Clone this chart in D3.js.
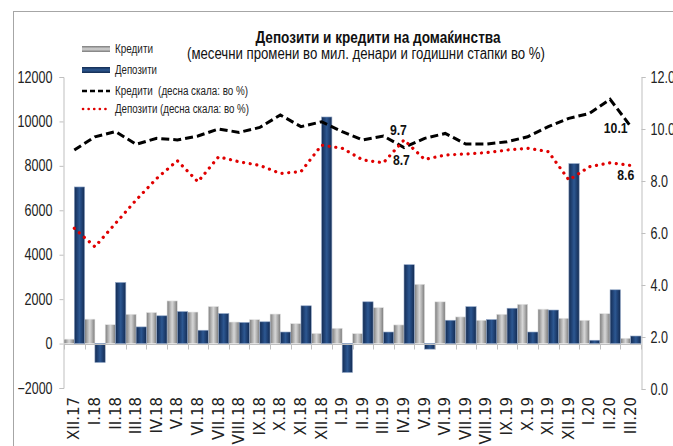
<!DOCTYPE html>
<html>
<head>
<meta charset="utf-8">
<script src="https://cdn.jsdelivr.net/npm/d3@7"></script>
<style>
  body { margin: 0; background: #fff; }
  text { font-family: "Liberation Sans Narrow", "Liberation Sans", sans-serif; }
</style>
</head>
<body>
<svg width="673" height="446"></svg>
<script>
var months = ["XII.17","I.18","II.18","III.18","IV.18","V.18","VI.18","VII.18","VIII.18","IX.18","X.18","XI.18",
              "XII.18","I.19","II.19","III.19","IV.19","V.19","VI.19","VII.19","VIII.19","IX.19","X.19","XI.19",
              "XII.19","I.20","II.20","III.20"];

// monthly changes, mil. denars (left scale)
var credits  = [200,1100,850,1320,1400,1920,1420,1670,970,1080,1330,900,
                460,690,450,1620,840,2670,1880,1200,1050,1320,1770,1550,
                1140,1050,1350,240];
var deposits = [7050,-850,2750,750,1250,1440,600,1350,950,980,520,1700,
                10200,-1300,1880,520,3550,-250,1050,1660,1080,1590,520,1510,
                8100,150,2420,340];

// annual growth rates, % (right scale)
var creditsRate  = [9.19,9.7,9.9,9.41,9.64,9.58,9.73,10.0,9.87,10.06,10.54,10.09,
                    10.28,9.9,9.58,9.73,9.29,9.64,9.83,9.42,9.42,9.51,9.7,10.09,
                    10.41,10.6,11.14,10.1];
var depositsRate = [6.18,5.47,6.37,7.27,8.1,8.78,7.97,8.93,8.74,8.6,8.29,8.36,
                    9.38,9.26,8.81,8.7,9.58,8.83,9.0,9.04,9.09,9.19,9.26,9.13,
                    8.04,8.55,8.7,8.6];

var leftTicks  = [-2000,0,2000,4000,6000,8000,10000,12000];
var rightTicks = [0,2,4,6,8,10,12];

var svg = d3.select("svg");

// narrow text width helper (no narrow font installed)
function narrowLen(s, digit) {
  var w = 0;
  for (var k = 0; k < s.length; k++) {
    var ch = s[k];
    if (ch === ".") w += digit * 0.5;
    else if (ch === "-") w += digit * 0.6;
    else w += digit;
  }
  return w;
}

// frame
svg.append("rect")
   .attr("x", 13.5).attr("y", 11.5)
   .attr("width", 700).attr("height", 500)
   .attr("fill", "none").attr("stroke", "#a6a6a6");

var defs = svg.append("defs");
function grad(id, edge, mid, light) {
  var g = defs.append("linearGradient").attr("id", id)
    .attr("x1", "0%").attr("x2", "100%").attr("y1", "0%").attr("y2", "0%");
  g.append("stop").attr("offset", "0%").attr("stop-color", edge);
  g.append("stop").attr("offset", "35%").attr("stop-color", mid);
  g.append("stop").attr("offset", "50%").attr("stop-color", light);
  g.append("stop").attr("offset", "65%").attr("stop-color", mid);
  g.append("stop").attr("offset", "100%").attr("stop-color", edge);
}
grad("gGrey", "#7a7a7a", "#bdbdbd", "#d6d6d6");
grad("gBlue", "#142c52", "#24497f", "#2d5891");

var x = d3.scaleBand().domain(months).range([64, 641]).padding(0);
var yL = d3.scaleLinear().domain([-2000, 12000]).range([388, 77]);
var yR = d3.scaleLinear().domain([0, 12]).range([389, 77]);
var bw = x.bandwidth();

// left axis
var axL = svg.append("g")
   .attr("transform", "translate(63.5,0)")
   .call(d3.axisLeft(yL).tickValues(leftTicks).tickSize(4).tickPadding(7).tickFormat(d3.format("d")));
// right axis
var axR = svg.append("g")
   .attr("transform", "translate(641.5,0)")
   .call(d3.axisRight(yR).tickValues(rightTicks).tickSize(4).tickPadding(5).tickFormat(d3.format(".1f")));

[axL, axR].forEach(function(a) {
  a.select(".domain").attr("stroke", "#bfbfbf");
  a.selectAll(".tick line").attr("stroke", "#bfbfbf");
  a.selectAll("text").style("font-size", "16px").attr("fill", "#222")
   .attr("textLength", function() { return narrowLen(d3.select(this).text(), 7); })
   .attr("lengthAdjust", "spacingAndGlyphs");
});

// bars
svg.selectAll(".barC").data(credits).enter().append("rect")
   .attr("class", "barC")
   .attr("x", function(d, i) { return x(months[i]); })
   .attr("width", bw / 2)
   .attr("y", function(d) { return yL(Math.max(0, d)); })
   .attr("height", function(d) { return Math.abs(yL(d) - yL(0)); })
   .attr("fill", "url(#gGrey)")
   .attr("stroke", "#e6e6e6").attr("stroke-width", 0.6);

svg.selectAll(".barD").data(deposits).enter().append("rect")
   .attr("class", "barD")
   .attr("x", function(d, i) { return x(months[i]) + bw / 2; })
   .attr("width", bw / 2)
   .attr("y", function(d) { return yL(Math.max(0, d)); })
   .attr("height", function(d) { return Math.abs(yL(d) - yL(0)); })
   .attr("fill", "url(#gBlue)")
   .attr("stroke", "#8ea3c4").attr("stroke-width", 0.6);

// category axis at zero
var y0 = Math.round(yL(0)) + 0.5;
svg.append("line")
   .attr("x1", 64).attr("x2", 641).attr("y1", y0).attr("y2", y0)
   .attr("stroke", "#bfbfbf");
svg.selectAll(".xtick").data(months.concat(["end"])).enter().append("line")
   .attr("x1", function(d, i) { return Math.round(x.range()[0] + i * bw) + 0.5; })
   .attr("x2", function(d, i) { return Math.round(x.range()[0] + i * bw) + 0.5; })
   .attr("y1", y0).attr("y2", y0 + 5)
   .attr("stroke", "#bfbfbf");

svg.selectAll(".xlab").data(months).enter().append("text")
   .attr("transform", function(d) { return "translate(" + (x(d) + bw / 2) + ",397) rotate(-90)"; })
   .attr("text-anchor", "end")
   .attr("dominant-baseline", "central")
   .style("font-family", "'DejaVu Sans', sans-serif")
   .style("font-size", "15px")
   .attr("fill", "#222")
   .text(function(d) { return d; });

// rate lines
var lineC = d3.line()
   .x(function(d, i) { return x(months[i]) + bw / 2; })
   .y(function(d) { return yR(d); });

svg.append("path").datum(creditsRate)
   .attr("d", lineC)
   .attr("fill", "none").attr("stroke", "#000")
   .attr("stroke-width", 3).attr("stroke-dasharray", "8,4");

svg.append("path").datum(depositsRate)
   .attr("d", lineC)
   .attr("fill", "none").attr("stroke", "#e00000")
   .attr("stroke-width", 3.2).attr("stroke-linecap", "round")
   .attr("stroke-dasharray", "0.1,6.6");

// data labels
function label(series, i, dx, dy) {
  var t = d3.format(".1f")(series[i]);
  svg.append("text")
     .attr("x", x(months[i]) + bw / 2 + dx)
     .attr("y", yR(series[i]) + dy)
     .attr("text-anchor", "middle")
     .style("font-weight", "bold").style("font-size", "15px")
     .attr("fill", "#111")
     .attr("textLength", narrowLen(t, 6.8))
     .attr("lengthAdjust", "spacingAndGlyphs")
     .text(t);
}
label(creditsRate, 15, 15, -1);
label(depositsRate, 15, 18, 2);
label(creditsRate, 27, -15, 7);
label(depositsRate, 27, -5, 15);

// title
svg.append("text").attr("x", 378).attr("y", 43)
   .attr("text-anchor", "middle")
   .style("font-weight", "bold").style("font-size", "16px").attr("fill", "#111")
   .attr("textLength", 245).attr("lengthAdjust", "spacingAndGlyphs")
   .text("Депозити и кредити на домаќинства");
svg.append("text").attr("x", 366).attr("y", 59)
   .attr("text-anchor", "middle")
   .style("font-size", "16px").attr("fill", "#111")
   .attr("textLength", 358).attr("lengthAdjust", "spacingAndGlyphs")
   .text("(месечни промени во мил. денари и годишни стапки во %)");

// legend
var legend = [
  {name: "Кредити", type: "gGrey"},
  {name: "Депозити", type: "gBlue"},
  {name: "Кредити  (десна скала: во %)", type: "dash"},
  {name: "Депозити (десна скала: во %)", type: "dot"}
];
var legLen = [38, 42, 133, 134];
var legY = [49, 70, 91, 109];
var lg = svg.append("g");
legend.forEach(function(d, i) {
  var yy = legY[i];
  if (d.type === "dash") {
    lg.append("line").attr("x1", 82).attr("x2", 110).attr("y1", yy).attr("y2", yy)
      .attr("stroke", "#000").attr("stroke-width", 2.5).attr("stroke-dasharray", "5,3");
  } else if (d.type === "dot") {
    lg.append("line").attr("x1", 83).attr("x2", 110).attr("y1", yy).attr("y2", yy)
      .attr("stroke", "#e00000").attr("stroke-width", 2.6).attr("stroke-linecap", "round")
      .attr("stroke-dasharray", "0.1,5.5");
  } else {
    var lgd = defs.append("linearGradient").attr("id", "lg" + i)
      .attr("x1", "0%").attr("x2", "0%").attr("y1", "0%").attr("y2", "100%");
    var c = d.type === "gGrey" ? ["#7a7a7a", "#d6d6d6"] : ["#142c52", "#2d5891"];
    lgd.append("stop").attr("offset", "0%").attr("stop-color", c[0]);
    lgd.append("stop").attr("offset", "50%").attr("stop-color", c[1]);
    lgd.append("stop").attr("offset", "100%").attr("stop-color", c[0]);
    lg.append("rect").attr("x", 82).attr("y", yy - 3).attr("width", 28).attr("height", 6)
      .attr("fill", "url(#lg" + i + ")");
  }
  lg.append("text").attr("x", 115).attr("y", yy + 4)
    .style("font-size", "12px").attr("fill", "#222")
    .attr("xml:space", "preserve")
    .attr("textLength", legLen[i]).attr("lengthAdjust", "spacingAndGlyphs")
    .text(d.name);
});
</script>
</body>
</html>
